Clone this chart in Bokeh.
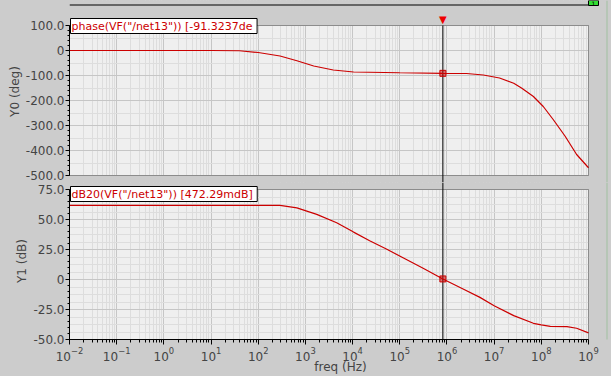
from bokeh.plotting import figure
from bokeh.layouts import column
from bokeh.models import FixedTicker, Label, BoxAnnotation
from bokeh.embed import file_html
from bokeh.resources import INLINE

# ---------------- data ----------------
cursor_freq = 8.2e5
cursor_phase = -91.3237
cursor_db = 0.47229

freq_phase = [1e-2, 10, 40, 100, 290, 660, 1500, 3900, 1.05e4, 1e5, 8.2e5,
              2.6e6, 5.9e6, 1.3e7, 2.6e7, 3.8e7, 6.8e7, 1.1e8, 1.8e8, 3.2e8, 5.6e8, 1e9]
phase_deg = [0, 0, -1, -8, -22, -41, -62, -78, -86, -89, -91.3,
             -92, -98, -110, -131, -150, -184, -224, -277, -343, -416, -469]

freq_db = [1e-2, 290, 660, 1740, 4600, 1.05e4, 2.3e4, 5.2e4, 1.2e5, 3.2e5, 8.2e5,
           2.2e6, 5e6, 1e7, 2.6e7, 6.8e7, 1e8, 1.55e8, 3.5e8, 5.6e8, 1e9]
mag_db = [61.7, 61.7, 59.7, 54.3, 47.3, 39.5, 32.3, 25.4, 17.9, 9.1, 0.47,
          -7.9, -14.9, -21.8, -30.1, -36.5, -37.8, -39.0, -39.2, -40.6, -44.5]

x_decades = [1e-2, 1e-1, 1e0, 1e1, 1e2, 1e3, 1e4, 1e5, 1e6, 1e7, 1e8, 1e9]
x_minor = [m * d for d in x_decades[:-1] for m in range(2, 10)]

phase_ticks = [-500, -400, -300, -200, -100, 0, 100]
phase_labels = ["-500.0", "-400.0", "-300.0", "-200.0", "-100.0", "0", "100.0"]
phase_minor_ticks = list(range(-500, 101, 20))
phase_minor_grid = list(range(-500, 101, 50))

db_ticks = [-50, -25, 0, 25, 50, 75]
db_labels = ["-50.0", "-25.0", "0", "25.0", "50.0", "75.0"]
db_minor_ticks = list(range(-50, 76, 5))
db_minor_grid = [-50 + 6.25 * i for i in range(21)]

label_top = 'phase(VF("/net13"))  [-91.3237de'
label_bot = 'dB20(VF("/net13"))  [472.29mdB]'

# ---------------- geometry / styling ----------------
BG = "#cccccc"
PLOT_BG = "#efefef"
RED = "#cc0000"
FONT = "DejaVu Sans"
W = 611
LEFT = 69
PLOT_W = 519                      # width of the drawn plot box in px
EXTRA_R = W - LEFT - PLOT_W       # gray area right of the plot box (inside frame)
PX_DEC = PLOT_W / 11.0
X_END = 10 ** (9 + EXTRA_R / PX_DEC)

H1 = 182                          # figure 1: canvas rows 0..181
TOP1, PH1 = 25, 150
DEG_PX = 600.0 / PH1
y1_range = (-500 - (H1 - TOP1 - PH1) * DEG_PX, 100 + TOP1 * DEG_PX)

H2 = 194                          # figure 2: canvas rows 182..375
TOP2, PH2, BOT2 = 7, 150, 37
DB_PX = 125.0 / PH2
y2_range = (-50, 75 + TOP2 * DB_PX)

PAGE = """
{% block preamble %}<style>html, body { background-color: #cccccc; }</style>{% endblock %}
"""


def style(p, ticks, labels, minor_ticks, minor_grid, ylabel, ybounds):
    y0, y1 = ybounds
    p.background_fill_color = BG
    p.border_fill_color = BG
    p.outline_line_color = None
    # light plot-box background, painted before the grids
    plot_bg = BoxAnnotation(left=1e-2, right=1e9, bottom=y0, top=y1,
                            fill_color=PLOT_BG, fill_alpha=1, line_alpha=0, level="underlay")
    p.center = [plot_bg] + list(p.center)
    p.yaxis.ticker = FixedTicker(ticks=ticks, minor_ticks=minor_ticks)
    p.yaxis.major_label_overrides = {t: l for t, l in zip(ticks, labels)}
    p.yaxis.axis_label = ylabel
    p.yaxis.bounds = ybounds
    for ax in p.yaxis:
        ax.axis_label_text_font = FONT
        ax.axis_label_text_font_size = "12px"
        ax.axis_label_text_font_style = "normal"
        ax.axis_label_standoff = 1
        ax.major_label_text_font = FONT
        ax.major_label_text_font_size = "12px"
        ax.major_label_standoff = 1
        ax.major_tick_out = 4
        ax.major_tick_in = 0
        ax.minor_tick_out = 2
        ax.minor_tick_in = 0
        ax.axis_line_color = "black"
    p.ygrid.ticker = FixedTicker(ticks=ticks, minor_ticks=minor_grid)
    p.ygrid.grid_line_color = "#c6c6c6"
    p.ygrid.minor_grid_line_color = "#dddddd"
    p.xgrid.ticker = FixedTicker(ticks=x_decades, minor_ticks=x_minor)
    p.xgrid.grid_line_color = "#c6c6c6"
    p.xgrid.minor_grid_line_color = "#dddddd"
    # hide grid lines outside the plot box
    p.add_layout(BoxAnnotation(bottom=y1, fill_color=BG, fill_alpha=1, line_alpha=0, level="underlay"))
    p.add_layout(BoxAnnotation(top=y0, fill_color=BG, fill_alpha=1, line_alpha=0, level="underlay"))
    p.add_layout(BoxAnnotation(left=1e9, fill_color=BG, fill_alpha=1, line_alpha=0, level="underlay"))
    p.add_layout(BoxAnnotation(left=1e-2, right=1e9, bottom=y0, top=y1,
                               fill_alpha=0, line_color="black", line_width=1))


def deco_box(p, left, right, bottom, top, color, line=None):
    p.add_layout(BoxAnnotation(left=left, right=right, bottom=bottom, top=top,
                               left_units="screen", right_units="screen",
                               bottom_units="screen", top_units="screen",
                               fill_color=color, fill_alpha=1,
                               line_color=line if line else color, line_alpha=1 if line else 0))


# ---------------- phase ----------------
p1 = figure(width=W, height=H1, x_axis_type="log", x_axis_location=None, title=None,
            x_range=(1e-2, X_END), y_range=y1_range,
            output_backend="svg", toolbar_location=None,
            min_border_left=LEFT, min_border_right=0,
            min_border_top=0, min_border_bottom=0,
            styles={"background-color": BG})
style(p1, phase_ticks, phase_labels, phase_minor_ticks, phase_minor_grid, "Y0 (deg)", (-500, 100))
p1.segment(x0=[cursor_freq], y0=[y1_range[0]], x1=[cursor_freq], y1=[100],
           line_color="black", line_width=1)
p1.line(freq_phase, phase_deg, line_color=RED, line_width=1.2)
p1.scatter([cursor_freq], [cursor_phase], marker="square", size=6,
           line_color=RED, fill_color=RED, fill_alpha=0.5)
p1.add_layout(Label(x=cursor_freq, y=H1 - TOP1 + 1, x_units="data", y_units="screen",
                    text="▼", text_color="#ee0000", text_font=FONT, text_font_size="10px",
                    text_align="center", text_baseline="bottom"))
p1.add_layout(Label(x=1, y=H1 - 18, x_units="screen", y_units="screen",
                    text=label_top, text_color=RED, text_font=FONT, text_font_size="11px",
                    text_align="left", text_baseline="top",
                    background_fill_color="white", border_line_color="black", padding=1))
# window decorations (top strip and right edge)
deco_box(p1, 0, PLOT_W, H1 - 5, H1 - 4, "black")
deco_box(p1, PLOT_W, PLOT_W + 10, H1 - 5, H1, "#33dd33", line="black")
p1.add_layout(Label(x=PLOT_W + 5, y=H1 - 5, x_units="screen", y_units="screen",
                    text="1", text_color="black", text_font=FONT, text_font_size="6px",
                    text_align="center", text_baseline="bottom"))
deco_box(p1, W - LEFT - 5, W - LEFT - 4, 0, H1, "#9fbf9f")

# ---------------- magnitude ----------------
p2 = figure(width=W, height=H2, x_axis_type="log", title=None,
            x_range=p1.x_range, y_range=y2_range,
            output_backend="svg", toolbar_location=None,
            min_border_left=LEFT, min_border_right=0,
            min_border_top=0, min_border_bottom=BOT2,
            styles={"background-color": BG})
style(p2, db_ticks, db_labels, db_minor_ticks, db_minor_grid, "Y1 (dB)", (-50, 75))
p2.xaxis.ticker = FixedTicker(ticks=x_decades, minor_ticks=x_minor)
p2.xaxis.bounds = (1e-2, 1e9)
p2.xaxis.axis_label = "freq (Hz)"
p2.xaxis.axis_label_text_font = FONT
p2.xaxis.axis_label_text_font_size = "12px"
p2.xaxis.axis_label_text_font_style = "normal"
p2.xaxis.axis_label_standoff = -4
p2.xaxis.major_label_text_font = FONT
p2.xaxis.major_label_text_font_size = "12px"
p2.xaxis.major_label_standoff = 2
p2.xaxis.major_tick_out = 5
p2.xaxis.major_tick_in = 0
p2.xaxis.minor_tick_out = 3
p2.xaxis.minor_tick_in = 0
p2.xaxis.axis_line_color = "black"
p2.segment(x0=[cursor_freq], y0=[-50], x1=[cursor_freq], y1=[y2_range[1]],
           line_color="black", line_width=1)
p2.line(freq_db, mag_db, line_color=RED, line_width=1.2)
p2.scatter([cursor_freq], [cursor_db], marker="square", size=6,
           line_color=RED, fill_color=RED, fill_alpha=0.5)
FH2 = H2 - BOT2
p2.add_layout(Label(x=1, y=FH2 - 4, x_units="screen", y_units="screen",
                    text=label_bot, text_color=RED, text_font=FONT, text_font_size="11px",
                    text_align="left", text_baseline="top",
                    background_fill_color="white", border_line_color="black", padding=1))
deco_box(p2, W - LEFT - 5, W - LEFT - 4, -BOT2, FH2, "#9fbf9f")

layout = column(p1, p2, spacing=0, styles={"background-color": BG})
open("out.html", "w").write(file_html(layout, INLINE, template=PAGE))
